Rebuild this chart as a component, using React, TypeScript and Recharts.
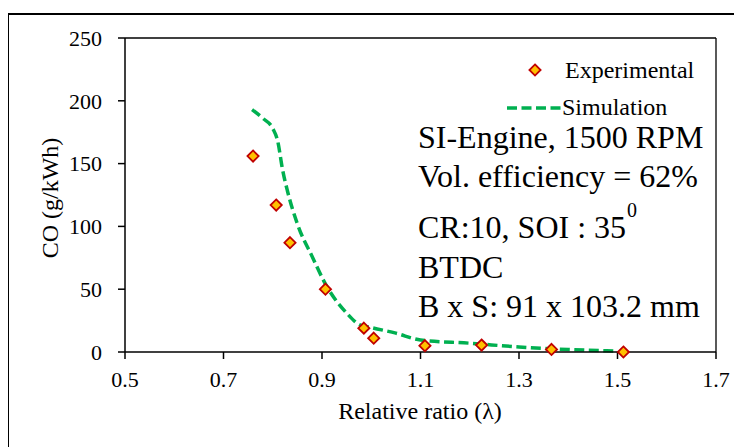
import {
  ComposedChart,
  Customized,
  Line,
  ReferenceLine,
  Scatter,
  XAxis,
  YAxis,
} from "recharts"

// Relative air-fuel ratio vs CO emissions
const experimentalLambda = [0.76, 0.807, 0.835, 0.907, 0.985, 1.005, 1.109, 1.224, 1.366, 1.512]
const experimentalCO = [156, 117, 87, 50, 19, 11, 5, 5.5, 2, 0]

const simulationLambda = [
  0.758, 0.78, 0.8, 0.81, 0.82, 0.83, 0.85, 0.88, 0.91, 0.95, 0.975, 1.0, 1.05, 1.1, 1.2, 1.3, 1.4, 1.5,
]
const simulationCO = [193, 186, 178, 168, 145, 128, 102, 76, 52, 31, 22, 19.5, 15, 9.5, 7, 4, 2, 0.8]

const xTicks = [0.5, 0.7, 0.9, 1.1, 1.3, 1.5, 1.7]
const yTicks = [0, 50, 100, 150, 200, 250]

const notes = ["SI-Engine, 1500 RPM", "Vol. efficiency = 62%", "CR:10, SOI : 35", "BTDC", "B x S: 91 x 103.2 mm"]

const experimental = experimentalLambda.map((x, i) => ({ x, y: experimentalCO[i] }))
const simulation = simulationLambda.map((x, i) => ({ x, y: simulationCO[i] }))

const FONT = '"Liberation Serif", "Times New Roman", serif'
const GREEN = "#00B050"
const MARKER_FILL = "#FFC000"
const MARKER_STROKE = "#C00000"

const tickStyle = { fill: "#000", fontSize: 22, fontFamily: FONT, style: { fontFamily: FONT } }
const axisStroke = { stroke: "#000", strokeWidth: 1.5 }

const Diamond = ({ cx, cy, r = 5.6 }: { cx?: number; cy?: number; r?: number }) => {
  if (cx == null || cy == null) return null
  return (
    <path
      d={`M${cx},${cy - r} L${cx + r},${cy} L${cx},${cy + r} L${cx - r},${cy} Z`}
      fill={MARKER_FILL}
      stroke={MARKER_STROKE}
      strokeWidth={1.8}
    />
  )
}

const LegendBox = () => (
  <g style={{ fontFamily: FONT }} fontSize={24} fill="#000">
    <Diamond cx={527} cy={62} />
    <text x={557} y={70}>Experimental</text>
    <line x1={499} x2={553} y1={100} y2={100} stroke={GREEN} strokeWidth={3.5} strokeDasharray="10 4.5" />
    <text x={554} y={107}>Simulation</text>
  </g>
)

const Notes = () => {
  const baselines = [140, 179, 230, 270, 309]
  return (
    <g style={{ fontFamily: FONT }} fontSize={32} fill="#000">
      {notes.map((line, i) => (
        <text key={line} x={410} y={baselines[i]}>
          {line}
          {i === 2 && (
            <tspan fontSize={20} dx={1} dy={-21}>
              0
            </tspan>
          )}
        </text>
      ))}
    </g>
  )
}

export default function App() {
  return (
    <div style={{ position: "relative", width: 734, height: 439, fontFamily: FONT }}>
      <div
        style={{
          position: "absolute",
          top: 5,
          left: -1,
          width: 735,
          height: 434,
          borderTop: "2px solid #000",
          borderLeft: "2px solid #000",
          boxSizing: "border-box",
        }}
      />
      <div style={{ position: "absolute", top: 0, left: 0 }}>
        <ComposedChart
          width={734}
          height={439}
          margin={{ top: 30, right: 26, left: 0, bottom: 65 }}
          style={{ fontFamily: FONT }}
        >
          <XAxis
            type="number"
            dataKey="x"
            domain={[0.5, 1.7]}
            ticks={xTicks}
            tickFormatter={(v: number) => v.toFixed(1)}
            height={30}
            tickSize={7}
            tickMargin={12}
            axisLine={axisStroke}
            tickLine={axisStroke}
            tick={tickStyle}
            label={{
              content: () => (
                <text x={412} y={411} textAnchor="middle" style={{ fontFamily: FONT }} fontSize={24} fill="#000">
                  Relative ratio (λ)
                </text>
              ),
            }}
          />
          <YAxis
            type="number"
            domain={[0, 250]}
            ticks={yTicks}
            width={117}
            tickSize={7}
            tickMargin={16}
            axisLine={axisStroke}
            tickLine={axisStroke}
            tick={tickStyle}
            label={{
              content: () => (
                <text
                  x={50}
                  y={190}
                  transform="rotate(-90 50 190)"
                  textAnchor="middle"
                  style={{ fontFamily: FONT }}
                  fontSize={24}
                  fill="#000"
                >
                  CO (g/kWh)
                </text>
              ),
            }}
          />
          <ReferenceLine y={250} stroke="#000" strokeWidth={1.3} />
          <ReferenceLine x={1.7} stroke="#000" strokeWidth={1.3} />
          <Line
            data={simulation}
            dataKey="y"
            type="monotone"
            stroke={GREEN}
            strokeWidth={3.5}
            strokeDasharray="10 4.5"
            dot={false}
            activeDot={false}
            isAnimationActive={false}
          />
          <Scatter data={experimental} dataKey="y" shape={<Diamond />} isAnimationActive={false} />
          <Customized component={<LegendBox />} />
          <Customized component={<Notes />} />
        </ComposedChart>
      </div>
    </div>
  )
}
